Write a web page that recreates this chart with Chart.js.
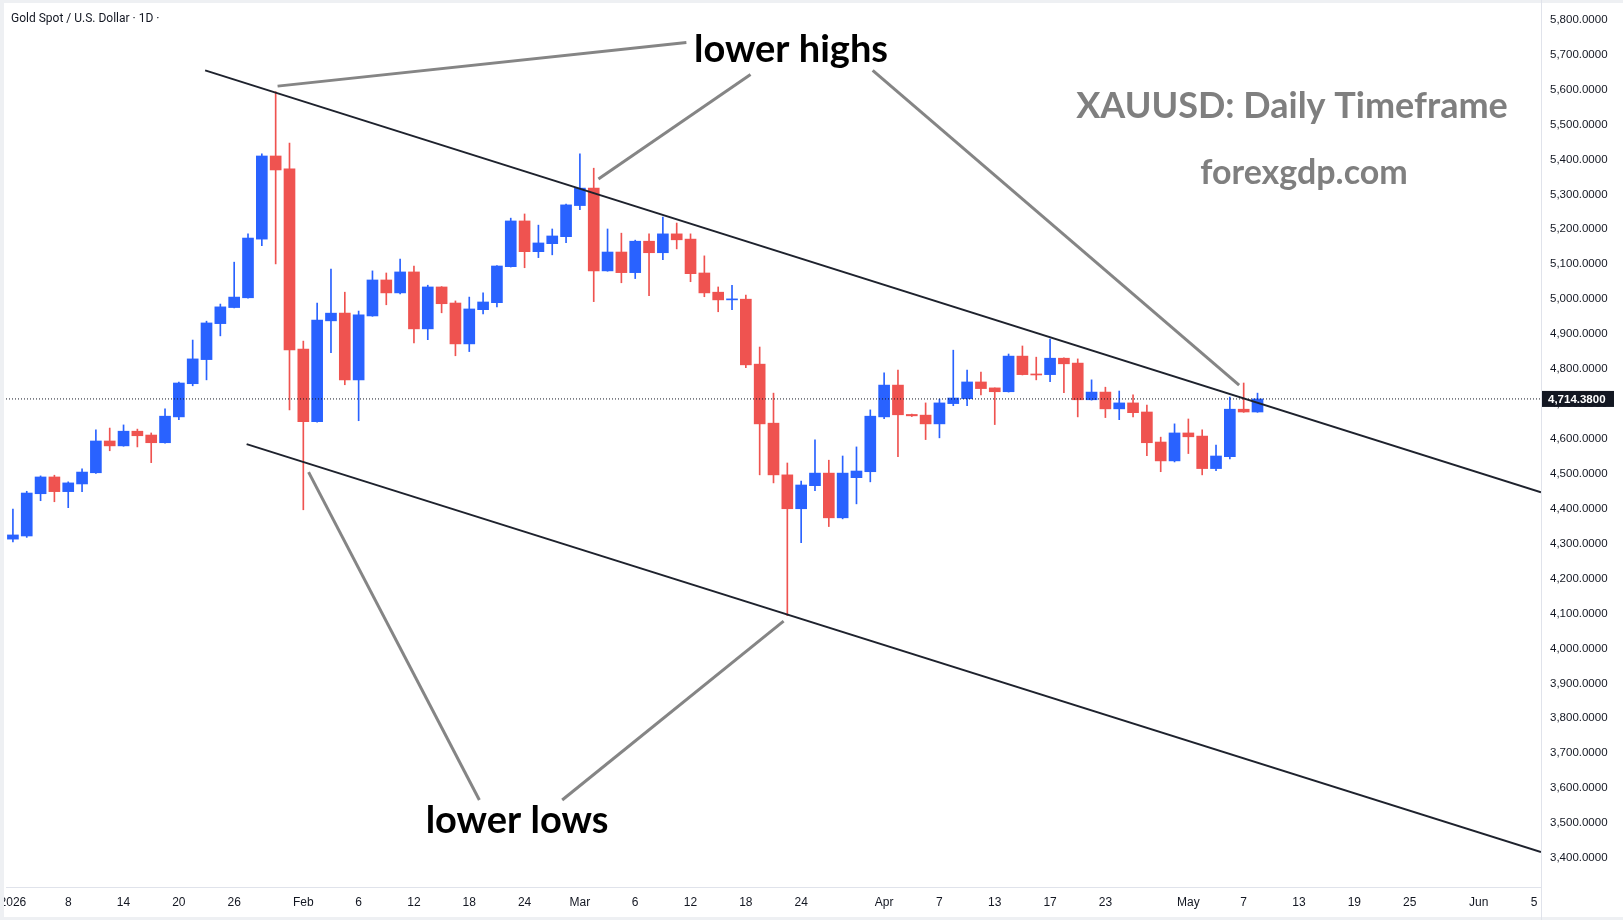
<!DOCTYPE html>
<html>
<head>
<meta charset="utf-8">
<title>XAUUSD Daily Timeframe</title>
<script src="https://cdn.jsdelivr.net/npm/chart.js@4.4.1/dist/chart.umd.min.js"></script>
<style>
  html, body { margin: 0; padding: 0; background: #fff; }
</style>
</head>
<body>
<canvas id="chart" width="1623" height="920"></canvas>
<script>
// daily candles, Jan 2 2026 .. May 8 2026 (trading-day index)
const opens = [4313, 4322, 4443, 4491, 4449, 4471, 4503, 4594, 4580, 4622,
  4611, 4589, 4663, 4758, 4827, 4930, 4976, 5004, 5172, 5410,
  5373, 4857, 4649, 4938, 4960, 4769, 4952, 5055, 5018, 5078,
  4915, 5035, 4989, 4872, 4970, 4990, 5093, 5224, 5136, 5159,
  5179, 5268, 5318, 5081, 5135, 5076, 5166, 5133, 5187, 5172,
  5075, 5020, 4998, 5000, 4814, 4645, 4497, 4400, 4466, 4502,
  4374, 4489, 4506, 4663, 4754, 4670, 4668, 4643, 4701, 4715,
  4763, 4746, 4735, 4837, 4785, 4784, 4831, 4817, 4712, 4734,
  4686, 4703, 4677, 4591, 4537, 4617, 4608, 4515, 4549, 4685,
  4677];
const highs = [4399, 4450, 4494, 4496, 4477, 4514, 4626, 4631, 4640, 4628,
  4617, 4686, 4763, 4883, 4937, 4986, 5106, 5187, 5416, 5594,
  5447, 4880, 4989, 5086, 5020, 4966, 5081, 5075, 5115, 5095,
  5040, 5036, 4995, 5006, 5018, 5096, 5232, 5244, 5212, 5201,
  5272, 5416, 5375, 5201, 5189, 5169, 5187, 5235, 5218, 5187,
  5124, 5035, 5040, 5012, 4863, 4731, 4531, 4479, 4597, 4539,
  4551, 4577, 4683, 4789, 4797, 4671, 4703, 4714, 4854, 4797,
  4791, 4746, 4843, 4866, 4834, 4886, 4832, 4829, 4769, 4748,
  4737, 4726, 4697, 4605, 4643, 4657, 4626, 4582, 4720, 4760,
  4731];
const lows = [4305, 4318, 4423, 4420, 4403, 4449, 4501, 4566, 4579, 4577,
  4532, 4588, 4655, 4752, 4769, 4895, 4975, 5003, 5153, 5101,
  4683, 4397, 4648, 4847, 4755, 4652, 4951, 4984, 5015, 4875,
  4884, 4961, 4838, 4850, 4958, 4978, 5092, 5090, 5119, 5127,
  5162, 5256, 4993, 5080, 5047, 5059, 5010, 5113, 5144, 5050,
  5007, 4964, 4970, 4804, 4497, 4474, 4094, 4303, 4452, 4349,
  4371, 4414, 4477, 4658, 4549, 4664, 4598, 4603, 4695, 4695,
  4726, 4641, 4734, 4783, 4769, 4764, 4732, 4663, 4711, 4661,
  4655, 4663, 4552, 4506, 4534, 4558, 4497, 4509, 4543, 4676,
  4676];
const closes = [4325, 4445, 4491, 4449, 4474, 4505, 4594, 4580, 4622, 4609,
  4589, 4665, 4760, 4829, 4932, 4978, 5006, 5175, 5410, 5370,
  4855, 4649, 4940, 4960, 4769, 4955, 5055, 5018, 5078, 4915,
  5035, 4987, 4872, 4972, 4992, 5095, 5224, 5136, 5161, 5181,
  5270, 5318, 5081, 5135, 5076, 5166, 5133, 5187, 5170, 5073,
  5018, 4998, 5000, 4812, 4643, 4497, 4400, 4468, 4502, 4374,
  4502, 4508, 4665, 4754, 4669, 4666, 4643, 4703, 4717, 4763,
  4744, 4735, 4837, 4784, 4783, 4831, 4815, 4712, 4734, 4686,
  4703, 4675, 4589, 4537, 4617, 4606, 4515, 4551, 4685, 4677,
  4714.38];

// x axis: trading-day index -> label
const tickIdx = [0, 4, 8, 12, 16, 21, 25, 29, 33, 37, 41, 45, 49, 53, 57,
  63, 67, 71, 75, 79, 85, 89, 93, 97, 101, 106, 110];
const tickText = ['2026', '8', '14', '20', '26', 'Feb', '6', '12', '18', '24', 'Mar', '6', '12', '18', '24',
  'Apr', '7', '13', '17', '23', 'May', '7', '13', '19', '25', 'Jun', '5'];
const priceTicks = [3400, 3500, 3600, 3700, 3800, 3900, 4000, 4100, 4200, 4300, 4400, 4500,
  4600, 4700, 4800, 4900, 5000, 5100, 5200, 5300, 5400, 5500, 5600, 5700, 5800];

// channel lines and pointer lines (index, price)
const upperLine = [{x: 13.9, y: 5655}, {x: 110.5, y: 4447}];
const lowerLine = [{x: 16.9, y: 4585}, {x: 110.5, y: 3417}];
const pointers = [
  [{x: 19.14, y: 5610}, {x: 48.7, y: 5735}],
  [{x: 42.34, y: 5344}, {x: 53.34, y: 5643}],
  [{x: 62.17, y: 5655}, {x: 88.67, y: 4754}],
  [{x: 21.38, y: 4505}, {x: 33.73, y: 3566}],
  [{x: 39.72, y: 3566}, {x: 55.73, y: 4078}]
];

const BLUE = '#2962ff';
const RED = '#ef5350';
const last = closes[closes.length - 1];
const candleColors = closes.map((c, i) => c >= opens[i] ? BLUE : RED);

const fmt = v => v.toLocaleString('en-US', {minimumFractionDigits: 4, maximumFractionDigits: 4});

const datasets = [
  {
    type: 'bar', label: 'wicks', order: 3, grouped: false, barThickness: 1,
    data: lows.map((l, i) => ({x: i, y: [l, highs[i]]})),
    backgroundColor: candleColors
  },
  {
    type: 'bar', label: 'bodies', order: 2, grouped: false, barThickness: 11, minBarLength: 1,
    data: opens.map((o, i) => ({x: i, y: [o, closes[i]]})),
    backgroundColor: candleColors
  },
  {
    type: 'line', label: 'last', order: 1,
    data: [{x: -0.5, y: last}, {x: 110.5, y: last}],
    borderColor: '#131722', borderWidth: 1, borderDash: [1, 2], pointRadius: 0
  },
  {
    type: 'line', label: 'upper', order: 0,
    data: upperLine, borderColor: '#1e222d', borderWidth: 2, pointRadius: 0
  },
  {
    type: 'line', label: 'lower', order: 0,
    data: lowerLine, borderColor: '#1e222d', borderWidth: 2, pointRadius: 0
  }
];
pointers.forEach((p, k) => datasets.push({
  type: 'line', label: 'ptr' + k, order: 0,
  data: p, borderColor: '#858585', borderWidth: 3, pointRadius: 0
}));

const decor = {
  id: 'decor',
  beforeDraw(chart) {
    const c = chart.ctx;
    c.save();
    c.fillStyle = '#ffffff';
    c.fillRect(0, 0, chart.width, chart.height);
    c.restore();
  },
  afterDraw(chart) {
    const c = chart.ctx;
    const a = chart.chartArea;
    const y = chart.scales.y;
    c.save();
    // frame
    c.fillStyle = '#eef0f3';
    c.fillRect(0, 0, 4, chart.height);
    c.fillRect(0, 0, chart.width, 3);
    c.fillRect(0, chart.height - 3, chart.width, 3);
    c.strokeStyle = '#e0e3eb';
    c.lineWidth = 1;
    c.beginPath();
    c.moveTo(a.right + 0.5, 0);
    c.lineTo(a.right + 0.5, chart.height);
    c.stroke();

    // last price tag
    const py = y.getPixelForValue(last);
    c.fillStyle = '#131722';
    c.fillRect(a.right + 1, py - 8, 72, 16);
    c.fillStyle = '#ffffff';
    c.font = 'bold 11.5px "Liberation Sans", Arial, sans-serif';
    c.textBaseline = 'middle';
    c.textAlign = 'left';
    c.fillText(fmt(last), a.right + 7, py + 0.5);

    // title
    c.fillStyle = '#131722';
    c.font = '12px Roboto, sans-serif';
    c.fillText('Gold Spot / U.S. Dollar \u00b7 1D \u00b7', 11, 18.5);

    // annotations
    c.textAlign = 'center';
    c.textBaseline = 'alphabetic';
    c.fillStyle = '#000000';
    c.font = 'bold 38px Lato, sans-serif';
    c.fillText('lower highs', 791, 62);
    c.fillText('lower lows', 517, 833);
    c.fillStyle = '#7f7f7f';
    c.font = 'bold 36px Lato, sans-serif';
    c.fillText('XAUUSD: Daily Timeframe', 1292, 118);
    c.font = 'bold 34px Lato, sans-serif';
    c.fillText('forexgdp.com', 1304, 184);
    c.restore();
  }
};

new Chart(document.getElementById('chart'), {
  type: 'bar',
  data: {datasets},
  options: {
    responsive: false,
    animation: false,
    events: [],
    layout: {padding: {left: 6, top: 3, right: 0, bottom: 0}},
    plugins: {legend: {display: false}, tooltip: {enabled: false}},
    scales: {
      x: {
        type: 'linear', offset: false, min: -0.5, max: 110.5,
        grid: {display: false, drawTicks: false},
        border: {display: true, color: '#e0e3eb'},
        afterBuildTicks(s) { s.ticks = tickIdx.map(v => ({value: v})); },
        afterFit(s) { s.height = 33; s.paddingLeft = 0; s.paddingRight = 0; },
        ticks: {
          autoSkip: false, maxRotation: 0, padding: 8, color: '#131722',
          font: {family: '"Liberation Sans", Arial, sans-serif', size: 12},
          callback: (v, i) => tickText[i]
        }
      },
      y: {
        type: 'linear', position: 'right', min: 3317, max: 5848,
        grid: {display: false, drawTicks: false},
        border: {display: true, color: '#e0e3eb'},
        afterBuildTicks(s) { s.ticks = priceTicks.map(v => ({value: v})); },
        afterFit(s) { s.width = 82; s.paddingTop = 0; s.paddingBottom = 0; },
        ticks: {
          padding: 9, crossAlign: 'near', color: '#131722',
          font: {family: '"Liberation Sans", Arial, sans-serif', size: 11.5},
          callback: v => fmt(v)
        }
      }
    }
  },
  plugins: [decor]
});
</script>
</body>
</html>
